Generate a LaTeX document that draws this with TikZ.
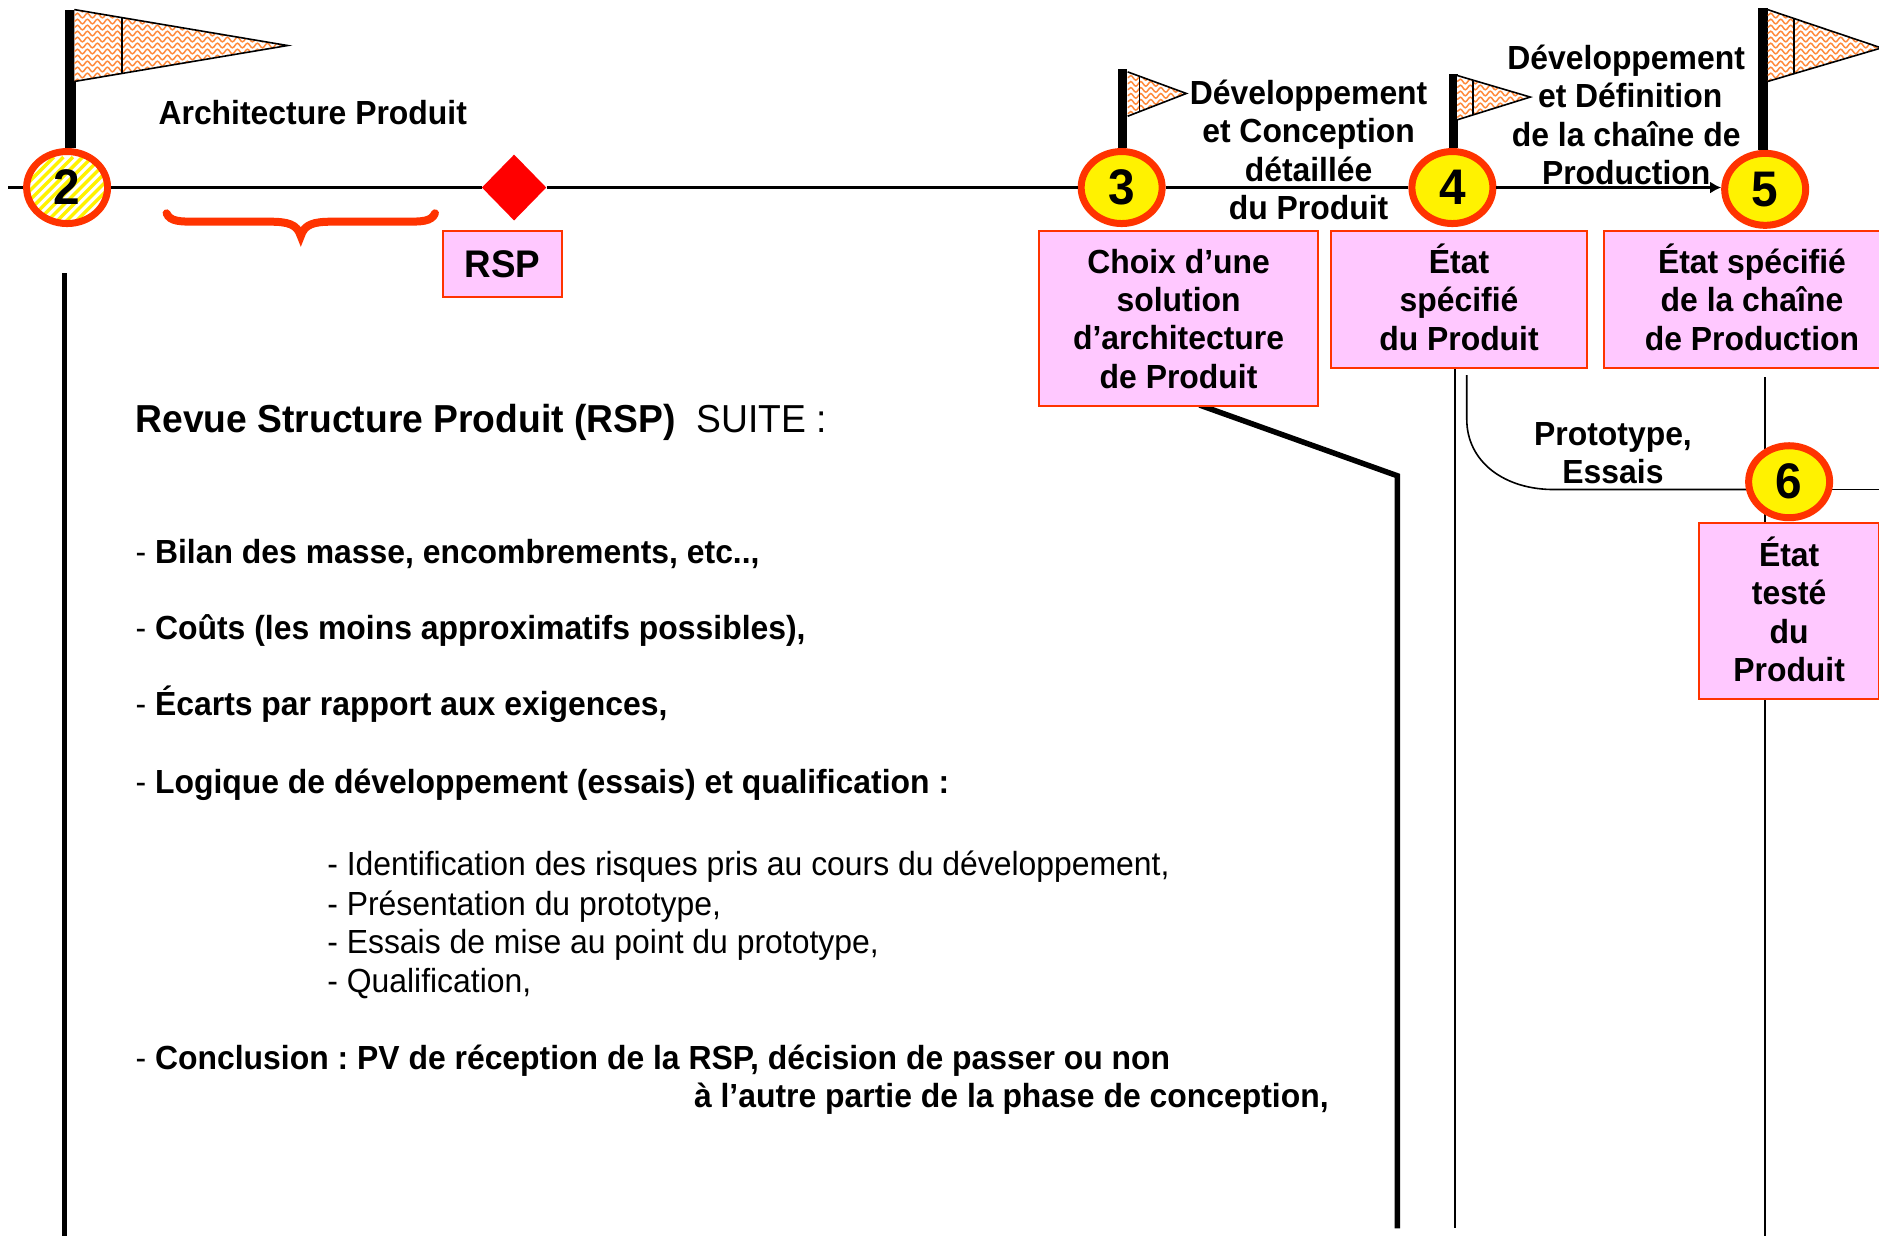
\documentclass[tikz,border=0pt]{standalone}
\usepackage{fontspec}
\setmainfont[FakeStretch=0.955]{Liberation Sans}
\usetikzlibrary{arrows.meta,backgrounds,decorations.pathmorphing,shapes.geometric}
\definecolor{jalon}{HTML}{FF3300}
\definecolor{etat}{HTML}{FFC8FF}
\definecolor{vague}{HTML}{FF8A3C}
\frenchspacing
\tikzstyle{b} = [ellipse, draw=jalon, fill=yellow, line width=7pt, inner sep=0pt, minimum width=81pt, minimum height=72pt, font=\fontsize{50}{50}\selectfont\bfseries]
\tikzstyle{e} = [rectangle, draw=jalon, fill=etat, line width=2pt, inner sep=0pt, align=center, font=\fontsize{33.4}{38.4}\selectfont\bfseries]
\tikzstyle{l} = [align=center, inner sep=0pt, font=\fontsize{33.4}{38.4}\selectfont\bfseries]
\tikzstyle{t} = [anchor=base west, inner sep=0pt, font=\fontsize{33.4}{38.4}\selectfont]
\tikzstyle{h} = [black, line width=2.6pt]
\tikzstyle{n} = [black, line width=1.6pt]
\tikzstyle{p} = [black, line width=5.5pt]
% pennant: top left x, top y, tip x, tip y, bottom y, bar x
\newcommand{\fanion}[6]{
	\begin{scope}
		\clip (#1,#2) -- (#3,#4) -- (#1,#5) -- cycle;
		\fill[white] (#1,#2) rectangle (#3,#5);
		\foreach \r in {0,5,...,60}
		\draw[vague, line width=1.5pt, decorate, decoration={snake, amplitude=2.3pt, segment length=10pt}] (#1,{#2+\r}) -- (#3,{#2+\r});
		\draw[black, line width=1.6pt] (#6,#2) -- (#6,#5);
	\end{scope}
	\draw[black, line width=1.6pt, line join=miter] (#1,#2) -- (#3,#4) -- (#1,#5);
}
\begin{document}
\begin{tikzpicture}[x=1.1983pt, y=-1.1983pt]
		\useasboundingbox (0,0) rectangle (1568,1031);

		% jalons
		\node[b, fill=white, path picture={
			\foreach \r in {-64,-56,...,64}
			\draw[yellow, line width=3.4pt] ({\r-40},40) -- ({\r+40},-40);
		}] (c2) at (56,156.5) {2};
		\node[b] (c3) at (936,156.5) {3};
		\node[b] (c4) at (1212,156.5) {4};
		\node[b] (c5) at (1473,158) {5};
		\node[b] (c6) at (1493,402) {6};
		\node[diamond, fill=red, inner sep=0pt, minimum width=64.5pt, minimum height=66pt] (rsp) at (429,156.5) {};

		% etats
		\node[e, minimum width=118.6pt, minimum height=65.9pt, font=\fontsize{38.5}{38.4}\selectfont\bfseries] (brsp) at (419.5,220.5) {RSP};
		\node[e, minimum width=279pt, minimum height=175pt] (b3) at (983.5,266) {Choix d’une\\solution\\d’architecture\\de Produit};
		\node[e, text depth=4.8pt, minimum width=255pt, minimum height=136.6pt] (b4) at (1217.5,250) {État\\spécifié\\du Produit};
		\node[e, text depth=4.8pt, minimum width=295pt, minimum height=136.6pt] (b5) at (1462,250) {État spécifié\\de la chaîne\\de Production};
		\node[e, text depth=2.4pt, minimum width=180pt, minimum height=176pt] (b6) at (1493,509.5) {État\\testé\\du\\Produit};

		% labels
		\node[l] (archi) at (261,94) {Architecture Produit};
		\node[l] (dev3) at (1092,125) {Développement\\et Conception\\détaillée\\du Produit};
		\node[l] (dev5) at (1357,96) {Développement\\\hspace*{8pt}et Définition\\de la chaîne de\\Production};
		\node[l] (proto) at (1346,378) {Prototype,\\Essais};

		% texte
		\node[t, font=\fontsize{39}{38.4}\selectfont] (titre) at (113,361) {\textbf{Revue Structure Produit (RSP)}\ \ SUITE :};
		\node[t] (i1) at (113,470) {- \textbf{Bilan des masse, encombrements, etc..,}};
		\node[t] (i2) at (113,534) {- \textbf{Coûts (les moins approximatifs possibles),}};
		\node[t] (i3) at (113,597) {- \textbf{Écarts par rapport aux exigences,}};
		\node[t] (i4) at (113,662) {- \textbf{Logique de développement (essais) et qualification :}};
		\node[t] (s1) at (273,731) {- Identification des risques pris au cours du développement,};
		\node[t] (s2) at (273,764) {- Présentation du prototype,};
		\node[t] (s3) at (273,796) {- Essais de mise au point du prototype,};
		\node[t] (s4) at (273,828) {- Qualification,};
		\node[t] (i5) at (113,892.5) {- \textbf{Conclusion : PV de réception de la RSP, décision de passer ou non}};
		\node[t] (i6) at (579,924.5) {\textbf{à l’autre partie de la phase de conception,}};

		\coordinate (debut) at (7,156.5);
		\coordinate (fin6) at (1568,408.5);
		\coordinate (g1) at (54,228);
		\coordinate (g2) at (54,1031);
		\coordinate (d1) at (1001,338);
		\coordinate (d2) at (1166,397);
		\coordinate (d3) at (1166,1025);
		\coordinate (m1) at (1214,307);
		\coordinate (m2) at (1214,1025);
		\coordinate (v1) at (1473,315);
		\coordinate (v2) at (1473,1031);
		\coordinate (q1) at (1224,313);
		\coordinate (q2) at (1224,350);
		\coordinate (q3) at (1298,408.5);
		\coordinate (f2) at (59,8);
		\coordinate (f3) at (937,58);
		\coordinate (f4) at (1213,62);
		\coordinate (f5) at (1471,7);

		\begin{scope}[on background layer]
			\draw[p] (g1) -- (g2);
			\draw[p, line join=miter] (d1) -- (d2) -- (d3);
			\draw[n] (m1) -- (m2);
			\draw[n] (v1) -- (v2);
			\draw[n] (q1) -- (q2) .. controls (1224,385) and (1255,409) .. (q3) -- (q3 -| c6);
			\draw[n] (q3 -| c6) -- (fin6);
		\end{scope}

		% axe
		\draw[h] (debut) -- (c2);
		\draw[h] (c2) -- (rsp);
		\draw[h] (rsp) -- (c3);
		\draw[h] (c3) -- (c4);
		\draw[h, -{Latex[length=11pt,width=12pt]}] (c4) -- (c4 -| c5.west);

		% fanions
		\draw[black, line width=11pt] (f2) -- (f2 |- c2.north);
		\draw[black, line width=9pt] (f3) -- (f3 |- c3.north);
		\draw[black, line width=9pt] (f4) -- (f4 |- c4.north);
		\draw[black, line width=10pt] (f5) -- (f5 |- c5.north);
		\fanion{62}{8}{240}{38}{68}{102}
		\fanion{941}{60}{990}{78}{97}{951}
		\fanion{1216}{63}{1277}{81}{100}{1229}
		\fanion{1475}{8}{1570}{40}{68}{1497}

		% accolade
		\draw[jalon, line width=8pt, line cap=round] (139,178) .. controls (142,185) and (150,185) .. (165,185) -- (225,185) .. controls (240,185) and (248,187) .. (251,197) .. controls (254,187) and (262,185) .. (277,185) -- (337,185) .. controls (352,185) and (360,185) .. (363,178);
	\end{tikzpicture}
\end{document}
